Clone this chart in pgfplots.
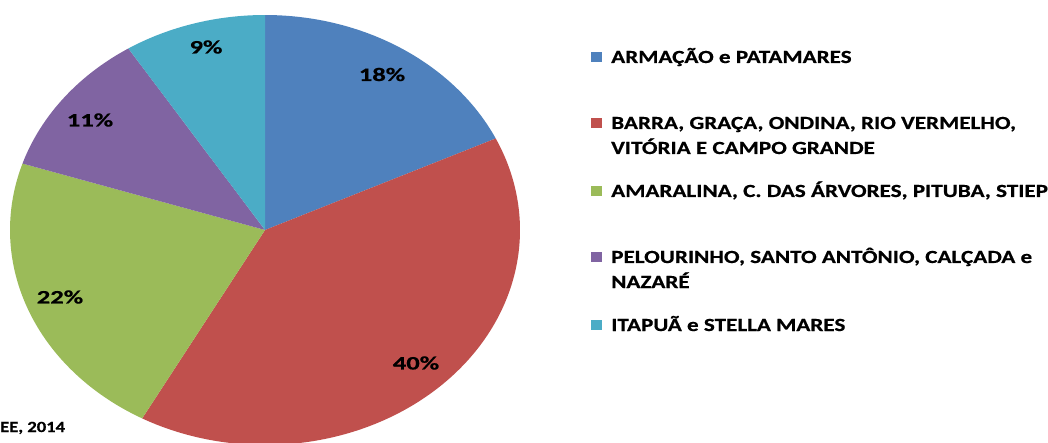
\documentclass[border=0pt]{standalone}
\usepackage{pgfplots}
\pgfplotsset{compat=1.18}
\usepackage{pgfplotstable}
\usepackage{fontspec}
\setmainfont{Carlito}
\newfontfamily\legfont[FakeStretch=1.25, BoldFeatures={FakeBold=0.6}]{Carlito}
\newfontfamily\labfont[FakeStretch=1.4, BoldFeatures={FakeBold=0.6}]{Carlito}
\newfontfamily\srcfont[FakeStretch=1.2, BoldFeatures={FakeBold=0.6}]{Carlito}
\definecolor{cA}{RGB}{79,129,189}
\definecolor{cB}{RGB}{192,80,77}
\definecolor{cC}{RGB}{155,187,89}
\definecolor{cD}{RGB}{128,100,162}
\definecolor{cE}{RGB}{75,172,198}
\pgfplotstableread{
value
18
40
22
11
9
}\piedata
\tikzset{lbl/.style={font=\labfont\bfseries\fontsize{19}{20}\selectfont, inner sep=0pt},
  leg/.style={font=\legfont\bfseries\fontsize{18.5}{25}\selectfont, inner sep=0pt, anchor=base west},
  key/.style={minimum width=11pt, minimum height=10.5pt, inner sep=0pt, draw=none}}
\begin{document}
\pgfplotstablegetelem{0}{value}\of\piedata \let\vA\pgfplotsretval
\pgfplotstablegetelem{1}{value}\of\piedata \let\vB\pgfplotsretval
\pgfplotstablegetelem{2}{value}\of\piedata \let\vC\pgfplotsretval
\pgfplotstablegetelem{3}{value}\of\piedata \let\vD\pgfplotsretval
\pgfplotstablegetelem{4}{value}\of\piedata \let\vE\pgfplotsretval
\pgfmathsetmacro\aA{90}%
\pgfmathsetmacro\aB{\aA-3.6*\vA}%
\pgfmathsetmacro\aC{\aB-3.6*\vB}%
\pgfmathsetmacro\aD{\aC-3.6*\vC}%
\pgfmathsetmacro\aE{\aD-3.6*\vD}%
\pgfmathsetmacro\aF{\aE-3.6*\vE}%
\begin{tikzpicture}
\useasboundingbox (0,0) rectangle (1048pt,442pt);
\begin{axis}[at={(0,0)}, anchor=south west, width=1048pt, height=442pt, scale only axis,
  xmin=0, xmax=1048, ymin=0, ymax=442, hide axis, clip=true]
\addplot[draw=none, fill=cA, domain=\aB:\aA, samples=80] ({265+255*cos(x)},{212+215*sin(x)}) -- (axis cs:265,212) -- cycle;
\addplot[draw=none, fill=cB, domain=\aC:\aB, samples=120] ({265+255*cos(x)},{212+215*sin(x)}) -- (axis cs:265,212) -- cycle;
\addplot[draw=none, fill=cC, domain=\aD:\aC, samples=80] ({265+255*cos(x)},{212+215*sin(x)}) -- (axis cs:265,212) -- cycle;
\addplot[draw=none, fill=cD, domain=\aE:\aD, samples=60] ({265+255*cos(x)},{212+215*sin(x)}) -- (axis cs:265,212) -- cycle;
\addplot[draw=none, fill=cE, domain=\aF:\aE, samples=60] ({265+255*cos(x)},{212+215*sin(x)}) -- (axis cs:265,212) -- cycle;
\node[lbl] at (axis cs:382,367.5) {18\%};
\node[lbl] at (axis cs:416,79) {40\%};
\node[lbl] at (axis cs:60,145) {22\%};
\node[lbl] at (axis cs:90,322) {11\%};
\node[lbl] at (axis cs:206,395) {9\%};
% legend
\node[key, fill=cA] at (axis cs:596.5,385) {};
\node[leg] at (axis cs:611,379) {ARMAÇÃO e PATAMARES};
\node[key, fill=cB] at (axis cs:596.5,319) {};
\node[leg] at (axis cs:611,313) {BARRA, GRAÇA, ONDINA, RIO VERMELHO,};
\node[leg] at (axis cs:611,288) {VITÓRIA E CAMPO GRANDE};
\node[key, fill=cC] at (axis cs:596.5,251) {};
\node[leg] at (axis cs:611,245) {AMARALINA, C. DAS ÁRVORES, PITUBA, STIEP};
\node[key, fill=cD] at (axis cs:596.5,185) {};
\node[leg] at (axis cs:611,179) {PELOURINHO, SANTO ANTÔNIO, CALÇADA e};
\node[leg] at (axis cs:611,154) {NAZARÉ};
\node[key, fill=cE] at (axis cs:596.5,117) {};
\node[leg] at (axis cs:611,111) {ITAPUÃ e STELLA MARES};
\node[font=\srcfont\bfseries\fontsize{15.5}{18}\selectfont, inner sep=0pt, anchor=base west] at (axis cs:0,10) {EE, 2014};
\end{axis}
\end{tikzpicture}
\end{document}
